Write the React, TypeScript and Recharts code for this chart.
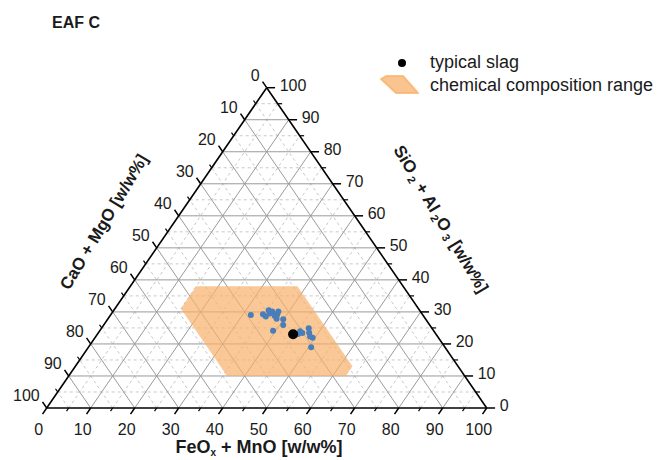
import { ScatterChart, Scatter, XAxis, YAxis, ReferenceLine, Legend } from 'recharts';

const font = '"Liberation Sans", Arial, sans-serif';

const axisTicks = [0, 10, 20, 30, 40, 50, 60, 70, 80, 90, 100];
const minorTicks = [5, 15, 25, 35, 45, 55, 65, 75, 85, 95];
const majorGrid = [10, 20, 30, 40, 50, 60, 70, 80, 90];
const minorGrid = [5, 15, 25, 35, 45, 55, 65, 75, 85, 95];

// slag samples: FeOx+MnO and SiO2+Al2O3 in w/w% (CaO+MgO is the remainder)
const sampleFeO = [31.9, 34.5, 35.5, 35.2, 35.8, 36.2, 36.8, 37.5, 38.3, 37.6, 37.8, 39.9, 40.8, 39.4, 45.6, 46.4, 47.1, 47.9, 48.7, 49.5, 50.6, 45.6, 35.9];
const sampleSiO2 = [29.0, 29.3, 28.6, 30.5, 30.0, 30.1, 29.4, 28.7, 27.9, 30.1, 29.2, 27.7, 25.9, 24.1, 24.0, 23.4, 24.9, 23.5, 22.3, 21.9, 19.0, 23.1, 29.5];

const typicalFeO = [44.5];
const typicalSiO2 = [23];

// corners of the composition range
const rangeFeO = [15, 38, 63, 63, 36, 15];
const rangeSiO2 = [38, 38, 13, 10, 10, 31];

const colors = {
  blue: '#4a7ebb',
  orange: '#f7b06a',
  major: '#9a9a9a',
  minor: '#c8c8c8',
};

// ternary -> cartesian (bottom-left = CaO corner, bottom-right = FeO corner, top = SiO2 corner)
const toXY = (feo: number, sio2: number) => ({ x: feo + sio2 / 2, y: sio2 });

const samples = sampleFeO.map((f, i) => toXY(f, sampleSiO2[i]));
const typical = typicalFeO.map((f, i) => toXY(f, typicalSiO2[i]));
const range = rangeFeO.map((f, i) => toXY(f, rangeSiO2[i]));

const bottomLabels = axisTicks.map((v) => ({ ...toXY(v, 0), label: v }));
const leftLabels = axisTicks.map((v) => ({ ...toXY(0, 100 - v), label: v }));
const rightLabels = axisTicks.map((v) => ({ ...toXY(100 - v, v), label: v }));

const gridSegments = (v: number) => [
  [toXY(0, v), toXY(100 - v, v)],
  [toXY(v, 0), toXY(v, 100 - v)],
  [toXY(100 - v, 0), toXY(0, 100 - v)],
];

const tickSegments = (v: number, t: number) => {
  const b = toXY(v, 0);
  const l = toXY(0, 100 - v);
  const r = toXY(100 - v, v);
  return [
    [b, { x: b.x - t / 2, y: b.y - t }],
    [l, { x: l.x - t / 2, y: l.y + t }],
    [r, { x: r.x + t, y: r.y }],
  ];
};

const labelShape = (dx: number, dy: number, anchor: string) => (p: any) => (
  <text x={p.cx + dx} y={p.cy + dy} textAnchor={anchor} fontSize={16} fontFamily={font} fill="#1a1a1a">
    {p.payload.label}
  </text>
);

const renderLegend = () => (
  <div style={{ fontFamily: font, fontSize: 18, color: '#1a1a1a', lineHeight: '23px' }}>
    <div style={{ display: 'flex', alignItems: 'center' }}>
      <svg width={46} height={23}>
        <circle cx={22} cy={12} r={4} fill="#000" />
      </svg>
      <span style={{ marginLeft: 4 }}>typical slag</span>
    </div>
    <div style={{ display: 'flex', alignItems: 'center' }}>
      <svg width={46} height={23}>
        <polygon points="6,2 23,2 38,19 16,19 1,5" fill={colors.orange} fillOpacity={0.75} stroke={colors.orange} strokeOpacity={0.75} strokeLinejoin="round" strokeWidth={2} />
      </svg>
      <span style={{ marginLeft: 4 }}>chemical composition range</span>
    </div>
  </div>
);

export default function App() {
  return (
    <div style={{ width: 668, height: 460, position: 'relative', background: '#fff' }}>
      <style>{'body{margin:0}'}</style>
      <ScatterChart width={668} height={460} margin={{ top: 41.7, right: 181.3, bottom: 52, left: 46.7 }}>
        <XAxis type="number" dataKey="x" domain={[0, 100]} hide />
        <YAxis type="number" dataKey="y" domain={[0, 100]} hide />

        <Scatter
          data={range}
          shape={() => null}
          line={{ fill: colors.orange, stroke: 'none', fillOpacity: 0.7 }}
          lineJointType="linearClosed"
          isAnimationActive={false}
        />

        {minorGrid.flatMap((v) =>
          gridSegments(v).map((seg, i) => (
            <ReferenceLine key={`mi-${v}-${i}`} segment={seg} stroke={colors.minor} strokeDasharray="3 3" ifOverflow="visible" />
          ))
        )}
        {majorGrid.flatMap((v) =>
          gridSegments(v).map((seg, i) => (
            <ReferenceLine key={`ma-${v}-${i}`} segment={seg} stroke={colors.major} ifOverflow="visible" />
          ))
        )}

        {/* triangle edges */}
        <ReferenceLine segment={[toXY(0, 0), toXY(100, 0)]} stroke="#000" strokeWidth={1.6} ifOverflow="visible" />
        <ReferenceLine segment={[toXY(0, 0), toXY(0, 100)]} stroke="#000" strokeWidth={1.6} ifOverflow="visible" />
        <ReferenceLine segment={[toXY(100, 0), toXY(0, 100)]} stroke="#000" strokeWidth={1.6} ifOverflow="visible" />

        {axisTicks.flatMap((v) =>
          tickSegments(v, 1.9).map((seg, i) => (
            <ReferenceLine key={`tk-${v}-${i}`} segment={seg} stroke="#000" strokeWidth={1.5} ifOverflow="visible" />
          ))
        )}
        {minorTicks.flatMap((v) =>
          tickSegments(v, 1.0).map((seg, i) => (
            <ReferenceLine key={`mt-${v}-${i}`} segment={seg} stroke="#000" strokeWidth={1.2} ifOverflow="visible" />
          ))
        )}

        <Scatter data={samples} shape={(p: any) => <circle cx={p.cx} cy={p.cy} r={3} fill={colors.blue} />} isAnimationActive={false} />
        <Scatter data={typical} shape={(p: any) => <circle cx={p.cx} cy={p.cy} r={5} fill="#000" />} isAnimationActive={false} />

        <Scatter data={bottomLabels} shape={labelShape(-8, 27, 'middle')} isAnimationActive={false} />
        <Scatter data={leftLabels} shape={labelShape(-7, -7, 'end')} isAnimationActive={false} />
        <Scatter data={rightLabels} shape={labelShape(13, 3, 'start')} isAnimationActive={false} />

        <Legend content={renderLegend} layout="vertical" align="center" verticalAlign="top" wrapperStyle={{ left: 380, top: 51, width: 290 }} />

        <text x={52} y={28} fontSize={16} fontWeight="bold" fontFamily={font} fill="#1a1a1a">EAF C</text>
        <text x={259} y={453} textAnchor="middle" fontSize={18} fontWeight="bold" fontFamily={font} fill="#1a1a1a">
          FeO<tspan fontSize={10} dy={3}>x</tspan><tspan dy={-3}> + MnO [w/w%]</tspan>
        </text>
        <text x={104} y={222} transform="rotate(-59 104 222)" textAnchor="middle" dominantBaseline="central" fontSize={17} fontWeight="bold" fontFamily={font} fill="#1a1a1a">
          CaO + MgO [w/w%]
        </text>
        <text x={441} y={219} transform="rotate(59 441 219)" textAnchor="middle" dominantBaseline="central" fontSize={17} fontWeight="bold" fontFamily={font} fill="#1a1a1a">
          SiO<tspan fontSize={11} dy={5}> 2</tspan><tspan dy={-5}> + Al</tspan><tspan fontSize={11} dy={5}> 2</tspan><tspan dy={-5}>O</tspan><tspan fontSize={11} dy={5}> 3</tspan><tspan dy={-5}> [w/w%]</tspan>
        </text>
      </ScatterChart>
    </div>
  );
}
